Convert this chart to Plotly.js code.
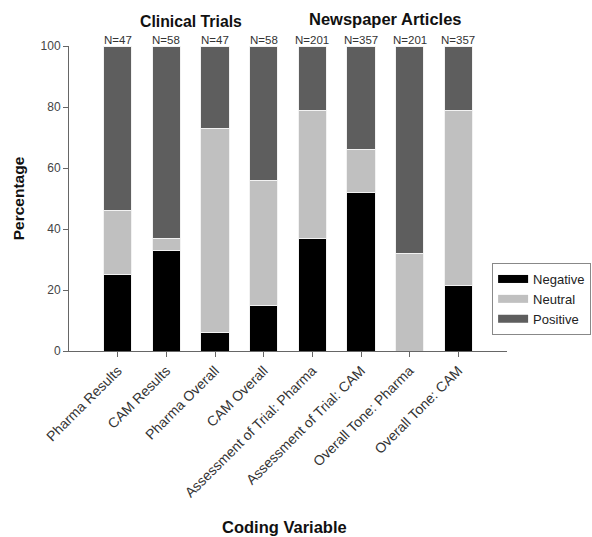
<!DOCTYPE html>
<html><head><meta charset="utf-8">
<script src="https://cdn.plot.ly/plotly-3.0.1.min.js"></script>
<style>html,body{margin:0;padding:0;background:#fff}#chart{width:592px;height:537px}</style>
</head><body><div id="chart"></div>
<script>
const categories = ["Pharma Results","CAM Results","Pharma Overall","CAM Overall","Assessment of Trial: Pharma","Assessment of Trial: CAM","Overall Tone: Pharma","Overall Tone: CAM"];
const nLabels = ["N=47","N=58","N=47","N=58","N=201","N=357","N=201","N=357"];
const negative = [25, 33, 6, 15, 37, 52, 0, 21.5];
const neutral  = [21, 4, 67, 41, 42, 14, 32, 57.5];
const positive = [54, 63, 27, 44, 21, 34, 68, 21];
const groupTitles = ["Clinical Trials","Newspaper Articles"];
const seriesNames = ["Negative","Neutral","Positive"];
const seriesColors = ["#000000","#c0c0c0","#5e5e5e"];

const xs = categories.map((c,i)=>i);
const vals = [negative, neutral, positive];
const data = [];
vals.forEach((v,k)=>{
  data.push({type:'bar', name:seriesNames[k], x:xs, y:v, width:0.58, showlegend:false,
    marker:{color:seriesColors[k], line:{color:'#f2f2f2', width:1}}});
});
// legend-only entries (wide swatches like the reference)
vals.forEach((v,k)=>{
  data.push({type:'scatter', mode:'lines', name:seriesNames[k], x:[null], y:[null],
    line:{color:seriesColors[k], width:8}, showlegend:true});
});

const ann = nLabels.map((t,i)=>({x:i, y:1, xref:'x', yref:'paper', yanchor:'bottom', text:t, showarrow:false, font:{size:11.5, color:'#333'}, yshift:-2}));
ann.push({x:1.5, y:1, xref:'x', yref:'paper', yanchor:'bottom', yshift:14, text:'<b>'+groupTitles[0]+'</b>', showarrow:false, font:{size:15.8, color:'#111'}});
ann.push({x:5.5, y:1, xref:'x', yref:'paper', yanchor:'bottom', yshift:16, text:'<b>'+groupTitles[1]+'</b>', showarrow:false, font:{size:16.5, color:'#111'}});
ann.push({x:0.491, y:-0.577, xref:'paper', yref:'paper', yanchor:'middle', text:'<b>Coding Variable</b>', showarrow:false, font:{size:16.5, color:'#111'}});

const layout = {
  width:592, height:537, barmode:'stack',
  margin:{l:69, r:85, t:46, b:186, autoexpand:false},
  paper_bgcolor:'#fff', plot_bgcolor:'#fff',
  font:{family:'Liberation Sans, Arial, sans-serif', color:'#333'},
  xaxis:{range:[-1,8], tickmode:'array', tickvals:xs, ticktext:categories, tickangle:-45,
    showline:true, linecolor:'#666', linewidth:1, ticks:'outside', ticklen:5, tickcolor:'#666',
    showgrid:false, zeroline:false, tickfont:{size:14, color:'#333'}, automargin:false},
  yaxis:{range:[0,100], tickvals:[0,20,40,60,80,100], showline:true, linecolor:'#666', linewidth:1,
    ticks:'outside', ticklen:5, tickcolor:'#666', showgrid:false, zeroline:false,
    tickfont:{size:12, color:'#444'}, automargin:false,
    title:{text:'<b>Percentage</b>', font:{size:15.5, color:'#111'}, standoff:12}},
  legend:{x:0.966, y:0.2885, xanchor:'left', yanchor:'top', bordercolor:'#888', borderwidth:1,
    font:{size:13, color:'#222'}, bgcolor:'#fff', traceorder:'normal', itemwidth:30},
  annotations:ann, showlegend:true
};
Plotly.newPlot('chart', data, layout, {displayModeBar:false, staticPlot:true});
</script></body></html>
